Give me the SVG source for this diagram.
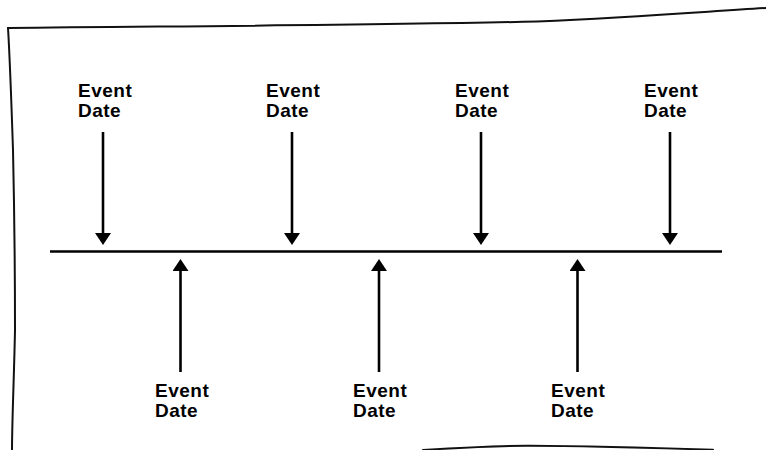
<svg xmlns="http://www.w3.org/2000/svg" width="766" height="450" viewBox="0 0 766 450">
<style>
.frame{fill:none;stroke:#111;stroke-width:2;stroke-linecap:round}
.axis{stroke:#000;stroke-width:2.6}
.shaft{stroke:#000;stroke-width:2.6}
.lbl{font-family:"Liberation Sans",Arial,sans-serif;font-weight:bold;font-size:19px;letter-spacing:0.5px;fill:#000}
</style>
<defs>
<marker id="ah" viewBox="0 0 12 16" refX="0" refY="8" markerWidth="12" markerHeight="16" markerUnits="userSpaceOnUse" orient="auto">
<path d="M0,0 L12,8 L0,16 Z" fill="#000"/>
</marker>
</defs>
<rect width="766" height="450" fill="#fff"/>
<g id="frame">
<path class="frame" d="M766,8 C700,12 640,17 537,21.5 C400,25 200,26 8,28"/>
<path class="frame" d="M8,28 C10,60 12,120 13,150 C15,240 15,300 15,330 C14,380 12,420 12,452"/>
<path class="frame" d="M423,450 C470,447 500,445.5 530,445.7 C600,446 660,448 713,449.8"/>
</g>
<g id="connectors">
<line id="axis" class="axis" x1="50" y1="251.5" x2="722" y2="251.5"/>
<line class="shaft" x1="103" y1="132" x2="103" y2="233" marker-end="url(#ah)"/>
<line class="shaft" x1="292" y1="132" x2="292" y2="233" marker-end="url(#ah)"/>
<line class="shaft" x1="481" y1="132" x2="481" y2="233" marker-end="url(#ah)"/>
<line class="shaft" x1="670" y1="132" x2="670" y2="233" marker-end="url(#ah)"/>
<line class="shaft" x1="180.5" y1="372" x2="180.5" y2="271" marker-end="url(#ah)"/>
<line class="shaft" x1="379" y1="372" x2="379" y2="271" marker-end="url(#ah)"/>
<line class="shaft" x1="577.5" y1="372" x2="577.5" y2="271" marker-end="url(#ah)"/>
</g>
<g id="event-top-1"><text class="lbl" x="78" y="97">Event</text><text class="lbl" x="78" y="116.5">Date</text></g>
<g id="event-top-2"><text class="lbl" x="266" y="97">Event</text><text class="lbl" x="266" y="116.5">Date</text></g>
<g id="event-top-3"><text class="lbl" x="455" y="97">Event</text><text class="lbl" x="455" y="116.5">Date</text></g>
<g id="event-top-4"><text class="lbl" x="644" y="97">Event</text><text class="lbl" x="644" y="116.5">Date</text></g>
<g id="event-bottom-1"><text class="lbl" x="155" y="397">Event</text><text class="lbl" x="155" y="416.5">Date</text></g>
<g id="event-bottom-2"><text class="lbl" x="353" y="397">Event</text><text class="lbl" x="353" y="416.5">Date</text></g>
<g id="event-bottom-3"><text class="lbl" x="551" y="397">Event</text><text class="lbl" x="551" y="416.5">Date</text></g>
</svg>
